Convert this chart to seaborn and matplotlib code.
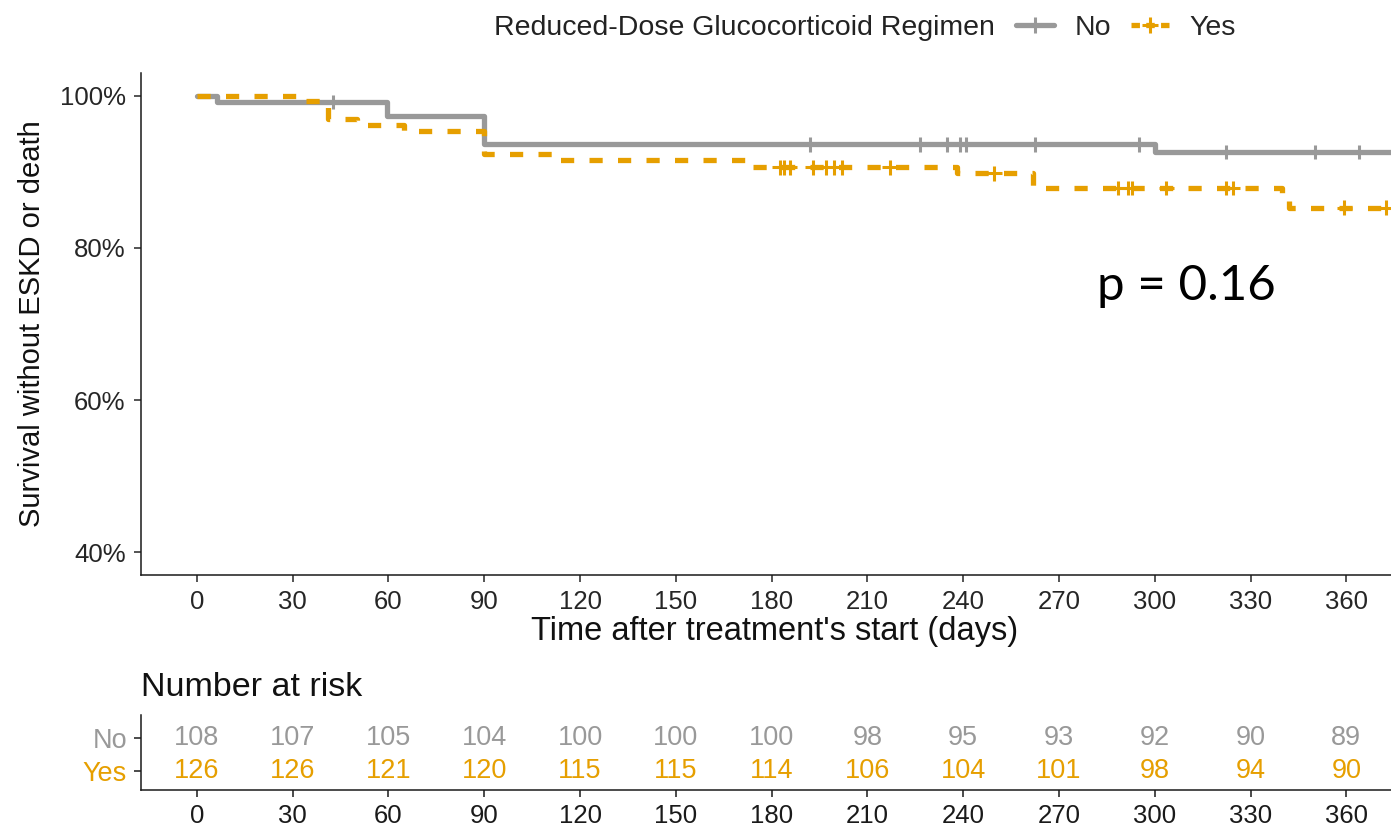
import matplotlib
matplotlib.use("Agg")
import matplotlib.pyplot as plt
from matplotlib.lines import Line2D
import seaborn as sns
import pandas as pd
import numpy as np

# ---------------- data ----------------
groups = ["No", "Yes"]
legend_title = "Reduced-Dose Glucocorticoid Regimen"

no_time = [0, 6.3, 59.5, 90, 300, 376]
no_surv = [100, 99.2, 97.3, 93.6, 92.6, 92.6]
yes_time = [0, 32, 41, 50, 65, 90, 113, 172.6, 238, 262, 340, 342, 376]
yes_surv = [100, 99.3, 97.0, 96.1, 95.4, 92.4, 91.5, 90.6, 89.8, 87.9, 87.1, 85.3, 85.3]

no_censor = [42.6, 191.9, 226.4, 235, 239, 241, 262.6, 295.2, 322.4, 350.3, 364.1]
yes_censor = [182.5, 184, 185.7, 192.9, 197, 199.7, 202, 217, 249.8, 288.4, 291.5,
              293, 303.6, 322.4, 324.4, 359.4, 372.5]

risk_times = [0, 30, 60, 90, 120, 150, 180, 210, 240, 270, 300, 330, 360]
risk_no = [108, 107, 105, 104, 100, 100, 100, 98, 95, 93, 92, 90, 89]
risk_yes = [126, 126, 121, 120, 115, 115, 114, 106, 104, 101, 98, 94, 90]

y_ticks = [40, 60, 80, 100]
x_ticks = [0, 30, 60, 90, 120, 150, 180, 210, 240, 270, 300, 330, 360]
p_text = "p = 0.16"

colors = {"No": "#999999", "Yes": "#E69F00"}

# ---------------- style ----------------
sns.set_theme(style="ticks")
plt.rcParams["font.family"] = ["Liberation Sans", "DejaVu Sans"]
plt.rcParams["axes.linewidth"] = 1.1
plt.rcParams["axes.edgecolor"] = "#1a1a1a"

W, H = 1391, 827
fig = plt.figure(figsize=(W / 100, H / 100), dpi=100)
ax = fig.add_axes([141 / W, 1 - 575 / H, 1 - 141 / W, (575 - 73) / H])
axr = fig.add_axes([141 / W, 1 - 790 / H, 1 - 141 / W, 75 / H])

# curves
df = pd.concat([
    pd.DataFrame({"time": no_time, "surv": no_surv, "group": "No"}),
    pd.DataFrame({"time": yes_time, "surv": yes_surv, "group": "Yes"}),
], ignore_index=True)

def surv_at(times, survs, t):
    idx = np.searchsorted(times, t, side="right") - 1
    return survs[idx]

cens = pd.concat([
    pd.DataFrame({"time": no_censor,
                  "surv": [surv_at(no_time, no_surv, t) for t in no_censor],
                  "group": "No"}),
    pd.DataFrame({"time": yes_censor,
                  "surv": [surv_at(yes_time, yes_surv, t) for t in yes_censor],
                  "group": "Yes"}),
], ignore_index=True)

lw = 3.8
sns.lineplot(data=df, x="time", y="surv", hue="group", style="group",
             palette=colors, dashes={"No": "", "Yes": (2.5, 2.9)},
             drawstyle="steps-post", estimator=None, sort=False,
             linewidth=lw, legend=False, ax=ax)
sns.scatterplot(data=cens, x="time", y="surv", hue="group", palette=colors,
                marker="+", s=110, linewidth=2.2, legend=False, ax=ax, zorder=3)

ax.set_xlim(-17.5, 374)
ax.set_ylim(37, 103)
ax.set_xticks(x_ticks)
ax.set_xticklabels([str(t) for t in x_ticks])
ax.set_yticks(y_ticks)
ax.set_yticklabels([f"{v}%" for v in y_ticks])
ax.tick_params(axis="both", labelsize=18.5, colors="#262626", length=5, width=1.1, pad=6)
ax.set_xlabel("Time after treatment's start (days)", fontsize=23.5, color="#111111")
ax.set_ylabel("Survival without ESKD or death", fontsize=21, color="#111111")
ax.xaxis.set_label_coords((775 - 141) / (W - 141), -0.082)
ax.yaxis.set_label_coords(-(141 - 32) / (W - 141), 0.5)
ax.yaxis.label.set_va("center")
ax.xaxis.label.set_va("top")
sns.despine(ax=ax)

ax.text(281.8, 73.1, p_text, fontsize=35.5, family=["Lato", "DejaVu Sans"],
        color="black", va="baseline", ha="left")

# legend
fs_leg = 20.5
fig.text(995 / W, 1 - 28 / H, legend_title, ha="right", va="center",
         fontsize=fs_leg, color="#222222")
handles = [
    Line2D([], [], color=colors["No"], lw=lw, marker="+", markersize=11, markeredgewidth=2.2),
    Line2D([], [], color=colors["Yes"], lw=lw, ls=(0, (1.6, 1.2)), marker="+",
           markersize=11, markeredgewidth=2.2),
]
fig.legend(handles, groups, loc="center left", bbox_to_anchor=(1016 / W, 1 - 28 / H),
           ncol=2, frameon=False, fontsize=fs_leg, handlelength=1.35, handletextpad=0.7,
           columnspacing=0.7, numpoints=1, borderpad=0, borderaxespad=0)

# risk table
fs_tab = 19.5
for t, n in zip(risk_times, risk_no):
    axr.text(t, 1, str(n), ha="center", va="center", fontsize=fs_tab, color=colors["No"])
for t, n in zip(risk_times, risk_yes):
    axr.text(t, 0, str(n), ha="center", va="center", fontsize=fs_tab, color=colors["Yes"])
axr.set_xlim(-17.5, 374)
axr.set_ylim(-0.58, 1.70)
axr.set_xticks(x_ticks)
axr.set_xticklabels([str(t) for t in x_ticks])
axr.set_yticks([0, 1])
axr.set_yticklabels(["Yes", "No"])
for lab, g in zip(axr.get_yticklabels(), ["Yes", "No"]):
    lab.set_color(colors[g])
axr.tick_params(axis="both", labelsize=18.5, length=5, width=1.1, pad=5)
axr.tick_params(axis="y", labelsize=fs_tab, color="#1a1a1a")
axr.tick_params(axis="x", colors="#1a1a1a")
axr.set_xlabel("")
axr.set_ylabel("")
sns.despine(ax=axr)
fig.text(141 / W, 1 - 688 / H, "Number at risk", ha="left", va="center",
         fontsize=24.5, color="#111111")

fig.savefig("out.png", dpi=100)
